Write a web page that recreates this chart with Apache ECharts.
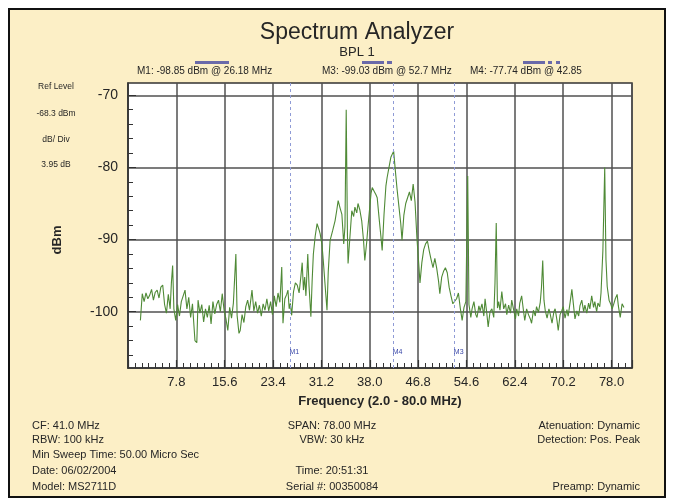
<!DOCTYPE html>
<html>
<head>
<meta charset="utf-8">
<script src="https://cdn.jsdelivr.net/npm/echarts@6.0.0/dist/echarts.min.js"></script>
<style>
  html, body { margin: 0; padding: 0; background: #ffffff; }
  #frame { position: absolute; left: 8px; top: 8px; width: 654px; height: 486px;
           border: 2px solid #111; background: #fcefc6; }
  #chart { position: absolute; left: 0; top: 0; width: 673px; height: 502px; }
</style>
</head>
<body>
<div id="frame"></div>
<div id="chart"></div>
<script>
// Swept trace: [frequency MHz, level dBm]
const trace = [
  [2.0,-101.2],[2.3,-97.5],[2.6,-98.6],[2.9,-97.4],[3.2,-98.2],[3.5,-97.7],[3.8,-96.9],[4.1,-98.4],
  [4.4,-97.3],[4.7,-97.0],[5.0,-98.1],[5.3,-96.6],[5.6,-96.3],[5.9,-99.0],[6.2,-100.2],[6.5,-97.6],
  [6.8,-99.6],[7.0,-96.0],[7.2,-93.6],[7.4,-99.6],[7.7,-101.2],
  [8.0,-99.0],[8.3,-100.6],[8.6,-98.6],[8.9,-97.8],[9.2,-97.0],[9.5,-99.6],[9.8,-98.0],[10.1,-100.8],
  [10.4,-98.9],[10.8,-104.0],[11.1,-104.3],[11.3,-98.4],[11.6,-100.2],[11.9,-99.0],[12.2,-101.4],
  [12.5,-99.6],[12.8,-100.8],[13.1,-99.1],[13.4,-101.7],[13.7,-98.6],[14.0,-100.3],[14.3,-99.0],
  [14.6,-98.4],[14.9,-100.0],[15.2,-97.5],[15.5,-99.8],[15.8,-101.0],[16.1,-102.6],[16.4,-99.4],
  [16.7,-100.9],[17.0,-98.8],[17.4,-92.0],[17.6,-100.5],[17.9,-103.0],[18.1,-102.6],[18.4,-100.4],
  [18.7,-101.5],[19.0,-99.3],[19.3,-98.4],[19.6,-99.8],[20.0,-97.0],[20.3,-99.9],[20.6,-98.6],
  [20.9,-100.2],[21.2,-99.1],[21.5,-100.6],[21.8,-98.9],[22.1,-99.8],[22.4,-98.2],[22.7,-99.9],
  [23.0,-98.6],[23.3,-100.4],[23.6,-97.8],[23.9,-99.3],[24.2,-97.4],[24.5,-98.7],[24.8,-93.8],
  [25.0,-101.6],[25.3,-98.2],[25.6,-97.6],[25.8,-97.0],[26.0,-99.6],[26.18,-98.85],[26.4,-100.5],
  [26.7,-97.2],[27.0,-96.0],[27.3,-96.3],[27.6,-97.4],[27.9,-95.0],[28.1,-93.2],[28.3,-97.0],
  [28.5,-95.2],[28.7,-97.8],[29.0,-92.0],[29.2,-96.4],[29.5,-100.7],[29.7,-95.8],[29.9,-92.0],
  [30.2,-89.5],[30.5,-87.8],[30.8,-88.6],[31.0,-89.2],[31.3,-90.8],[31.5,-92.9],[31.8,-96.4],
  [32.1,-99.8],[32.3,-94.5],[32.6,-90.1],[33.0,-88.8],[33.4,-87.4],[33.7,-85.8],[33.9,-84.6],
  [34.2,-85.6],[34.5,-86.5],[34.8,-90.6],[35.0,-88.2],[35.2,-72.0],[35.4,-89.4],[35.5,-93.3],
  [35.8,-89.6],[36.1,-86.0],[36.4,-86.8],[36.6,-85.5],[36.9,-86.3],[37.1,-85.0],[37.4,-85.9],
  [37.7,-87.4],[38.0,-90.2],[38.2,-92.9],[38.5,-90.4],[38.7,-88.3],[39.0,-85.5],[39.2,-83.6],
  [39.4,-82.8],[39.7,-83.3],[40.0,-83.8],[40.2,-84.2],[40.5,-87.0],[40.8,-89.6],[41.0,-91.5],
  [41.3,-86.5],[41.6,-82.6],[41.8,-81.4],[42.1,-80.0],[42.4,-78.6],[42.85,-77.74],[43.1,-80.2],
  [43.4,-83.0],[43.7,-85.4],[44.0,-87.8],[44.2,-90.1],[44.5,-86.6],[44.8,-85.0],[45.1,-84.2],
  [45.4,-83.4],[45.7,-84.6],[46.0,-82.3],[46.3,-84.8],[46.6,-89.7],[46.9,-93.4],[47.1,-96.0],
  [47.4,-93.2],[47.7,-91.4],[48.0,-90.6],[48.3,-90.2],[48.6,-91.6],[48.9,-92.8],[49.2,-93.9],
  [49.5,-92.6],[49.8,-94.0],[50.1,-95.8],[50.3,-97.5],[50.6,-95.2],[50.9,-94.4],[51.2,-93.9],
  [51.5,-94.6],[51.8,-96.6],[52.1,-97.8],[52.4,-98.9],[52.7,-99.03],[53.0,-98.2],[53.3,-97.4],
  [53.6,-99.5],[53.9,-101.2],[54.2,-99.4],[54.5,-98.6],[54.8,-81.2],[55.0,-99.0],[55.3,-100.8],
  [55.5,-99.6],[55.8,-98.6],[56.1,-100.4],[56.3,-100.8],[56.6,-99.2],[56.8,-99.9],[57.1,-98.9],
  [57.4,-100.6],[57.6,-98.2],[57.9,-100.4],[58.1,-102.1],[58.4,-100.0],[58.7,-99.6],[59.0,-100.8],
  [59.2,-96.0],[59.4,-87.7],[59.6,-99.5],[59.8,-98.6],[60.0,-99.8],[60.3,-97.2],[60.6,-99.6],
  [60.9,-98.9],[61.1,-100.4],[61.4,-99.1],[61.7,-100.2],[61.9,-98.4],[62.2,-99.7],[62.5,-101.0],
  [62.7,-99.6],[63.0,-100.6],[63.2,-98.8],[63.5,-97.8],[63.8,-99.9],[64.0,-101.2],[64.3,-99.6],
  [64.6,-100.4],[64.9,-101.0],[65.1,-101.6],[65.4,-99.8],[65.7,-100.6],[65.9,-99.3],[66.2,-100.1],
  [66.5,-98.7],[66.7,-96.6],[66.9,-92.9],[67.1,-98.4],[67.3,-99.8],[67.6,-100.9],[67.9,-99.6],
  [68.1,-100.3],[68.4,-101.6],[68.7,-100.0],[68.9,-99.6],[69.2,-101.2],[69.4,-102.6],[69.7,-100.4],
  [70.0,-99.8],[70.2,-99.3],[70.5,-100.9],[70.8,-99.7],[71.0,-100.6],[71.3,-98.8],[71.6,-96.9],
  [71.9,-99.4],[72.1,-101.0],[72.4,-99.9],[72.7,-100.6],[72.9,-99.2],[73.2,-98.4],[73.5,-100.0],
  [73.7,-99.1],[74.0,-100.2],[74.3,-98.8],[74.5,-99.6],[74.8,-97.8],[75.1,-99.4],[75.3,-98.6],
  [75.6,-100.0],[75.8,-98.8],[76.1,-99.3],[76.3,-97.4],[76.6,-91.6],[76.9,-80.0],[77.1,-92.8],
  [77.3,-96.5],[77.6,-98.4],[77.9,-99.0],[78.1,-99.6],[78.4,-98.8],[78.6,-98.2],[78.9,-97.6],
  [79.1,-99.2],[79.4,-100.8],[79.7,-98.9],[80.0,-99.4]
];

// Axis ticks
const xTickStep = 7.8;
const xTickLabels = ['7.8','15.6','23.4','31.2','38.0','46.8','54.6','62.4','70.2','78.0'];
const yTickValues = [-100, -90, -80, -70];
const yMinorValues = [-106,-104,-102,-98,-96,-94,-92,-88,-86,-84,-82,-78,-76,-74,-72];
const refLevel = -68.3;
const dbPerDiv = 3.95;

// Markers
const markerNames = ['M1', 'M3', 'M4'];
const markerFreqs = [26.18, 52.7, 42.85];
const markerLevels = [-98.85, -99.03, -77.74];
const markerUnits = ['MHz', 'MHz', ''];

// Instrument settings
const sideLabels = ['Ref Level', refLevel.toFixed(1) + ' dBm', 'dB/ Div', dbPerDiv.toFixed(2) + ' dB'];
const infoLeft = ['CF: 41.0 MHz', 'RBW: 100 kHz', 'Min Sweep Time: 50.00 Micro Sec', 'Date: 06/02/2004', 'Model: MS2711D'];
const infoMid = ['SPAN: 78.00 MHz', 'VBW: 30 kHz', '', 'Time: 20:51:31', 'Serial #: 00350084'];
const infoRight = ['Atenuation: Dynamic', 'Detection: Pos. Peak', '', '', 'Preamp: Dynamic'];

const FONT = '"Liberation Sans", Arial, sans-serif';
const INK = '#262626';
const GRIDC = '#505050';

const readouts = markerNames.map((n, i) =>
  `${n}: ${markerLevels[i].toFixed(2)} dBm @ ${markerFreqs[i]}${markerUnits[i] ? ' ' + markerUnits[i] : ''}`);

const graphics = [];
const readoutX = [137, 322, 470];
readouts.forEach((t, i) => graphics.push({
  type: 'text', left: readoutX[i], top: 66,
  style: { text: t, font: '10px ' + FONT, fill: INK }
}));
// marker indicator bars above the readouts
[[195, 34], [362, 22], [387, 5], [523, 22], [548, 4], [556, 4]].forEach(b => graphics.push({
  type: 'rect', shape: { x: b[0], y: 61, width: b[1], height: 3 },
  style: { fill: '#6a6aaa' }
}));
const sideY = [87, 114, 140, 165];
sideLabels.forEach((t, i) => graphics.push({
  type: 'text', x: 56, y: sideY[i],
  style: { text: t, font: '8.5px ' + FONT, fill: INK, align: 'center', verticalAlign: 'middle' }
}));
graphics.push({
  type: 'text', x: 57, y: 240, rotation: Math.PI / 2,
  style: { text: 'dBm', font: 'bold 13px ' + FONT, fill: INK, align: 'center', verticalAlign: 'middle' }
});
const infoY = [426, 440, 455, 471, 487];
infoLeft.forEach((t, i) => t && graphics.push({
  type: 'text', x: 32, y: infoY[i],
  style: { text: t, font: '11px ' + FONT, fill: INK, align: 'left', verticalAlign: 'middle' }
}));
infoMid.forEach((t, i) => t && graphics.push({
  type: 'text', x: 332, y: infoY[i],
  style: { text: t, font: '11px ' + FONT, fill: INK, align: 'center', verticalAlign: 'middle' }
}));
infoRight.forEach((t, i) => t && graphics.push({
  type: 'text', x: 640, y: infoY[i],
  style: { text: t, font: '11px ' + FONT, fill: INK, align: 'right', verticalAlign: 'middle' }
}));

const chart = echarts.init(document.getElementById('chart'));
chart.setOption({
  animation: false,
  backgroundColor: 'transparent',
  textStyle: { fontFamily: FONT },
  title: [
    { text: 'Spectrum Analyzer', left: 352, top: 16, textAlign: 'center',
      textStyle: { fontSize: 23, fontWeight: 'normal', color: INK, fontFamily: FONT } },
    { text: 'BPL 1', left: 352, top: 41, textAlign: 'center',
      textStyle: { fontSize: 13, fontWeight: 'normal', color: INK, fontFamily: FONT } }
  ],
  grid: { left: 128, top: 83, width: 504, height: 285, show: true,
          backgroundColor: '#ffffff', borderColor: '#333', borderWidth: 1.5 },
  xAxis: {
    type: 'value', min: 0, max: 81.3, interval: xTickStep,
    name: 'Frequency (2.0 - 80.0 MHz)', nameLocation: 'middle', nameGap: 27,
    nameTextStyle: { fontSize: 13, fontWeight: 'bold', color: INK, fontFamily: FONT },
    axisLine: { show: true, lineStyle: { color: '#333', width: 1.5 } },
    axisTick: { show: true, inside: true, length: 8, lineStyle: { color: '#333', width: 1.2 } },
    minorTick: { show: true, splitNumber: 7, length: 5, lineStyle: { color: '#333', width: 1 } },
    axisLabel: {
      margin: 8, fontSize: 13, color: INK, showMinLabel: false, showMaxLabel: false,
      formatter: v => {
        const i = Math.round(v / xTickStep);
        return (i >= 1 && i <= xTickLabels.length && Math.abs(v - i * xTickStep) < 1e-6) ? xTickLabels[i - 1] : '';
      }
    },
    splitLine: { show: true, lineStyle: { color: GRIDC, width: 1.5 } }
  },
  yAxis: [
    {
      type: 'value', min: refLevel - 10 * dbPerDiv, max: refLevel, position: 'left',
      axisLine: { show: true, lineStyle: { color: '#333', width: 1.5 } },
      axisTick: { show: true, inside: true, length: 8, customValues: yTickValues, lineStyle: { color: '#333' } },
      axisLabel: { customValues: yTickValues, fontSize: 14, color: INK, margin: 10 },
      splitLine: { show: true, lineStyle: { color: GRIDC, width: 1.5 } }
    },
    {
      type: 'value', min: refLevel - 10 * dbPerDiv, max: refLevel, position: 'left',
      axisLine: { show: false },
      axisTick: { show: true, inside: true, length: 5, customValues: yMinorValues, lineStyle: { color: '#333' } },
      axisLabel: { show: false },
      splitLine: { show: false }
    }
  ],
  graphic: graphics,
  series: [{
    type: 'line', data: trace, showSymbol: false, symbol: 'none',
    lineStyle: { color: '#4f8a36', width: 1.1 },
    markLine: {
      silent: true, symbol: 'none',
      lineStyle: { color: '#8f9bd6', type: [3, 3], width: 1 },
      label: { show: false },
      data: markerFreqs.map((f, i) => ({ xAxis: f, name: markerNames[i] }))
    },
    markPoint: {
      silent: true, symbol: 'circle', symbolSize: 0,
      label: { show: true, formatter: p => p.name, color: '#3a48a8', fontSize: 7, offset: [4, 0] },
      data: markerFreqs.map((f, i) => ({ coord: [f, -105.6], name: markerNames[i] }))
    }
  }]
});
</script>
</body>
</html>
